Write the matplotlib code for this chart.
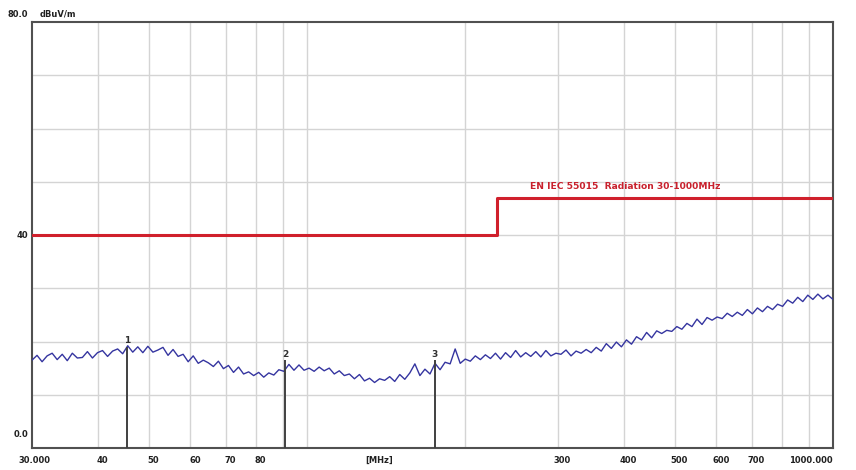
import matplotlib.pyplot as plt
import numpy as np

# Dane (pomiar emisji promieniowanej 30-1000 MHz)
f_start = 30.0
f_stop = 1000.0

# Poziom szumu / emisji w dBuV/m (160 punktow sweepu, log po czestotliwosci)
levels = [
    16.5, 17.4, 16.2, 17.3, 17.8, 16.6, 17.6, 16.4, 17.8, 16.9,
    17.0, 18.1, 16.9, 17.9, 18.3, 17.2, 18.2, 18.6, 17.7, 19.2,
    18.0, 19.0, 17.9, 19.1, 18.0, 18.4, 18.9, 17.4, 18.5, 17.2,
    17.6, 16.2, 17.3, 15.9, 16.5, 16.0, 15.3, 16.3, 14.9, 15.5,
    14.2, 15.2, 13.9, 14.3, 13.6, 14.2, 13.3, 14.1, 13.7, 14.7,
    14.4, 15.7, 14.6, 15.6, 14.6, 15.0, 14.4, 15.2, 14.5, 15.0,
    13.9, 14.5, 13.6, 13.9, 13.0, 13.8, 12.6, 13.1, 12.3, 13.0,
    12.7, 13.4, 12.5, 13.8, 12.9, 14.1, 15.8, 13.6, 14.8, 13.9,
    15.9, 14.7, 16.1, 15.8, 18.6, 15.9, 16.7, 16.3, 17.3, 16.6,
    17.5, 16.8, 17.8, 16.7, 17.9, 17.0, 18.3, 17.1, 17.9, 17.2,
    18.1, 17.1, 18.3, 17.3, 17.8, 17.6, 18.4, 17.3, 18.2, 17.8,
    18.5, 17.9, 18.9, 18.2, 19.6, 18.7, 19.9, 19.0, 20.3, 19.5,
    20.9, 20.3, 21.7, 20.7, 22.0, 21.5, 22.1, 21.9, 22.8, 22.3,
    23.4, 22.8, 24.2, 23.2, 24.5, 24.0, 24.6, 24.3, 25.3, 24.7,
    25.5, 24.9, 26.0, 25.2, 26.3, 25.6, 26.6, 26.0, 27.0, 26.6,
    27.8, 27.2, 28.3, 27.5, 28.7, 27.9, 28.9, 28.0, 28.7, 27.9,
]

# Linia limitu EN IEC 55015
limit_freqs = [30, 230, 230, 1000]
limit_levels = [40, 40, 47, 47]
limit_name = 'EN IEC 55015  Radiation 30-1000MHz'

# Markery
marker_ids = ['1', '2', '3']
marker_freqs = [45.5, 91.0, 175.0]
marker_levels = [19.0, 16.5, 16.5]

x_tick_vals = [30, 40, 50, 60, 70, 80, 300, 400, 500, 600, 700, 1000]
x_tick_labels = ['30.000', '40', '50', '60', '70', '80', '300', '400', '500', '600', '700', '1000.000']


def generate_emission_chart():
    fig = plt.figure(figsize=(8.56, 4.70), dpi=100)
    ax = fig.add_axes([32 / 856, 1 - 448 / 470, (833 - 32) / 856, (448 - 22) / 470])

    freqs = np.geomspace(f_start, f_stop, len(levels))

    ax.set_xscale('log')
    ax.set_xlim(f_start, f_stop)
    ax.set_ylim(0, 80)

    # Siatka
    grid_f = [40, 50, 60, 70, 80, 90, 100, 200, 300, 400, 500, 600, 700, 800, 900]
    for g in grid_f:
        ax.axvline(g, color='#d4d4d4', lw=1.0, zorder=0)
    for g in range(10, 80, 10):
        ax.axhline(g, color='#d4d4d4', lw=1.0, zorder=0)

    # Limit
    ax.plot(limit_freqs, limit_levels, color='#d0202c', lw=2.2, zorder=3)
    ax.text(265, 48.2, limit_name, color='#c8202c', fontsize=6.6,
            fontweight='bold', ha='left', va='bottom')

    # Pomiar
    ax.plot(freqs, levels, color='#3535a0', lw=1.0, zorder=4)

    # Markery
    for mid, mf, ml in zip(marker_ids, marker_freqs, marker_levels):
        ax.vlines(mf, 0, ml, color='#404040', lw=1.4, zorder=5)
        ax.text(mf, ml + 0.3, mid, fontsize=6.5, fontweight='bold',
                color='#303030', ha='center', va='bottom', zorder=6)

    ax.set_xticks([])
    ax.set_yticks([])
    ax.minorticks_off()
    for sp in ax.spines.values():
        sp.set_color('#505050')
        sp.set_linewidth(1.5)

    # Opisy osi
    tr = ax.get_xaxis_transform()
    for v, lab in zip(x_tick_vals, x_tick_labels):
        ha = 'center'
        xv = v * 1.02
        if lab == '30.000':
            xv = 30.3
        if lab == '1000.000':
            ha = 'right'
            xv = 1000
        ax.text(xv, -0.018, lab, transform=tr, fontsize=6, fontweight='bold',
                color='#202020', ha=ha, va='top')
    ax.text(137, -0.018, '[MHz]', transform=tr, fontsize=6, fontweight='bold',
            color='#202020', ha='center', va='top')

    ty = ax.get_yaxis_transform()
    ax.text(-0.03, 80.6, '80.0', transform=ty, fontsize=6, fontweight='bold',
            color='#202020', ha='left', va='bottom')
    ax.text(0.01, 80.6, 'dBuV/m', transform=ty, fontsize=6, fontweight='bold',
            color='#202020', ha='left', va='bottom')
    ax.text(-0.005, 40, '40', transform=ty, fontsize=6, fontweight='bold',
            color='#202020', ha='right', va='center')
    ax.text(-0.005, 2.5, '0.0', transform=ty, fontsize=6, fontweight='bold',
            color='#202020', ha='right', va='center')

    plt.savefig('out.png', dpi=100)
    plt.close()


if __name__ == "__main__":
    generate_emission_chart()
